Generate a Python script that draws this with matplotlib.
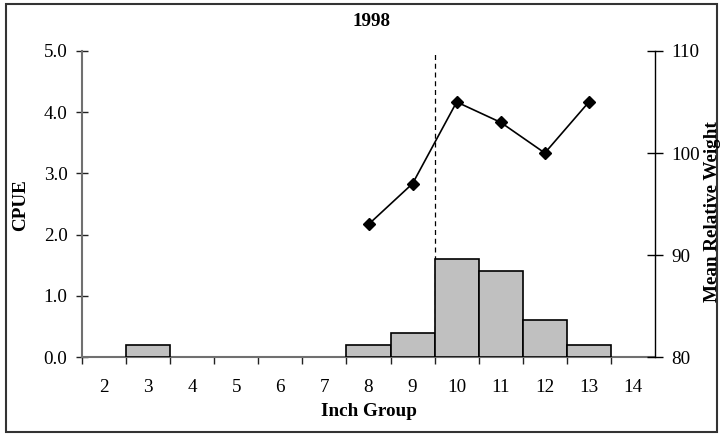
import matplotlib
matplotlib.use("Agg")
import matplotlib.pyplot as plt
from matplotlib.patches import Rectangle

plt.rcParams['font.family'] = ['Liberation Serif', 'DejaVu Serif']

categories = [2, 3, 4, 5, 6, 7, 8, 9, 10, 11, 12, 13, 14]
cpue = [0, 0.2, 0, 0, 0, 0, 0.2, 0.4, 1.6, 1.4, 0.6, 0.2, 0]
wr_x = [8, 9, 10, 11, 12, 13]
wr_y = [93, 97, 105, 103, 100, 105]
cutoff = 9.5
title = "1998"

FS = 13.8

fig = plt.figure(figsize=(7.23, 4.36), dpi=100)
ax = fig.add_axes([82/723, 1-357/436, (655-82)/723, (357-51)/436])

# bars (skip zero-height)
bx = [c for c, v in zip(categories, cpue) if v > 0]
bh = [v for v in cpue if v > 0]
ax.bar(bx, bh, width=1.0, color='#c0c0c0', edgecolor='black', linewidth=1.2, zorder=3)
ax.plot([cutoff, cutoff], [0, 4.97], color='black', linestyle=(0, (4, 3)), linewidth=0.9, zorder=2)

ax.set_xlim(1.5, 14.5)
ax.set_ylim(0, 5.0)
ax.set_yticks([0, 1, 2, 3, 4, 5])
ax.set_yticklabels([f"{v:.1f}" for v in [0, 1, 2, 3, 4, 5]])
ax.set_xticks(categories)
ax.set_xticklabels([str(c) for c in categories])
ax.set_xticks([c + 0.5 for c in categories[:-1]] + [1.5], minor=True)
ax.tick_params(axis='x', which='major', length=0, pad=16, labelsize=FS)
ax.tick_params(axis='x', which='minor', length=5, width=1.0, direction='out', color='#222222')
ax.tick_params(axis='y', which='major', length=9, width=1.0, direction='inout', pad=6, labelsize=FS, color='#222222')
for s in ['top', 'right']:
    ax.spines[s].set_visible(False)
for s in ['left', 'bottom']:
    ax.spines[s].set_color('#707070')
    ax.spines[s].set_linewidth(1.5)

ax2 = ax.twinx()
ax2.plot(wr_x, wr_y, color='black', linewidth=1.2, marker='D', markersize=6, zorder=4)
ax2.set_ylim(80, 110)
ax2.set_yticks([80, 90, 100, 110])
ax2.tick_params(axis='y', which='major', length=11, width=1.0, direction='inout', pad=6, labelsize=FS)
for s in ['top', 'left', 'bottom']:
    ax2.spines[s].set_visible(False)
ax2.spines['right'].set_color('black')
ax2.spines['right'].set_linewidth(1.0)

ax.set_xlabel("Inch Group", fontsize=FS, fontweight='bold', labelpad=5)
fig.text(21/723, 1-205/436, "CPUE", rotation=90, ha='center', va='center', fontsize=FS, fontweight='bold')
fig.text(712.5/723, 1-212/436, "Mean Relative Weight", rotation=90, ha='center', va='center', fontsize=FS, fontweight='bold')
fig.text(372/723, 1-21/436, title, ha='center', va='center', fontsize=FS, fontweight='bold')

fig.patches.append(Rectangle((6/723, 4/436), 711/723, 428/436, transform=fig.transFigure,
                             fill=False, edgecolor='#333333', linewidth=1.5))

fig.savefig("out.png", dpi=100)
